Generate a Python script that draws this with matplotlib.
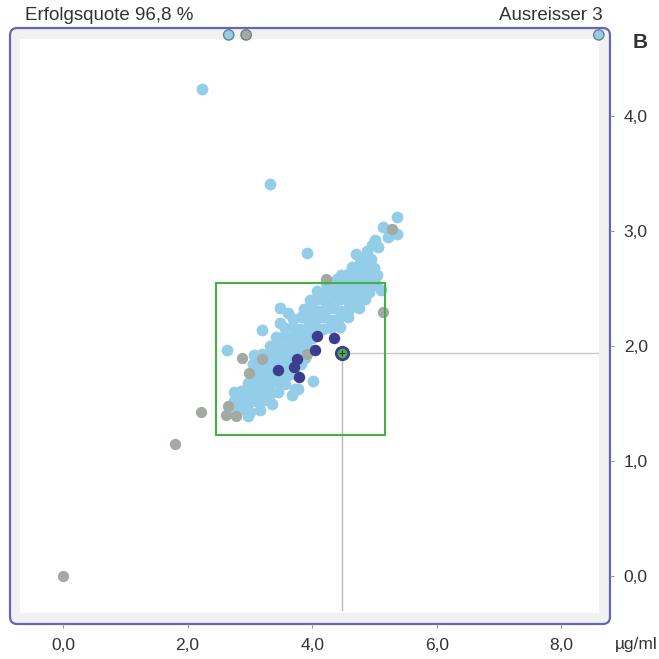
import matplotlib
matplotlib.use('Agg')
import matplotlib.pyplot as plt
from matplotlib.patches import FancyBboxPatch, Rectangle

plt.rcParams['font.family'] = ['Liberation Sans', 'DejaVu Sans']

# light blue cloud (x in ug/ml, y)
blue_x = [5.36, 5.14, 5.25, 5.36, 5.22, 5.01, 4.96, 5.06, 4.88, 4.85, 4.95, 4.77,
          4.64, 4.76, 4.88, 5.00,
          4.47, 4.58, 4.70, 4.82, 4.93, 5.04,
          4.22, 4.34, 4.46, 4.57, 4.69, 4.81, 4.92, 5.03,
          4.07, 4.19, 4.31, 4.43, 4.55, 4.67, 4.79, 4.92,
          3.97, 4.09, 4.21, 4.33, 4.45, 4.57, 4.69, 4.85,
          3.87, 3.99, 4.11, 4.23, 4.35, 4.47, 4.59, 4.75,
          3.70, 3.82, 3.94, 4.06, 4.18, 4.30, 4.42, 4.58,
          3.57, 3.69, 3.81, 3.93, 4.05, 4.17, 4.30, 4.45,
          3.42, 3.54, 3.66, 3.78, 3.90, 4.00,
          3.32, 3.44, 3.56, 3.68, 3.80, 3.92,
          3.07, 3.19, 3.31, 3.43, 3.55, 3.67, 3.79, 3.88,
          3.05, 3.17, 3.29, 3.41, 3.53, 3.65, 3.82,
          3.02, 3.14, 3.26, 3.38, 3.50, 3.62, 3.72,
          2.97, 3.09, 3.21, 3.33, 3.45, 3.57,
          2.74, 2.86, 2.98, 3.10, 3.22, 3.34, 3.45,
          2.74, 2.86, 2.98, 3.10, 3.22,
          2.76, 2.88, 3.00, 3.16,
          2.97,
          2.23, 3.32, 3.92, 5.10, 2.64, 3.68, 3.77, 3.35, 4.01,
          3.48, 3.61, 3.19, 3.48, 3.72,
          4.70, 4.40, 4.15, 3.95, 3.75, 3.50, 3.25, 2.90, 4.60, 4.30]
blue_y = [3.12, 3.04, 3.01, 2.98, 2.95, 2.92, 2.88, 2.86, 2.83, 2.77, 2.76, 2.72,
          2.69, 2.67, 2.70, 2.68,
          2.62, 2.63, 2.61, 2.63, 2.60, 2.62,
          2.55, 2.56, 2.54, 2.55, 2.56, 2.54, 2.55, 2.53,
          2.48, 2.47, 2.49, 2.47, 2.48, 2.46, 2.48, 2.47,
          2.40, 2.41, 2.39, 2.40, 2.41, 2.39, 2.40, 2.41,
          2.32, 2.33, 2.31, 2.32, 2.33, 2.31, 2.32, 2.33,
          2.24, 2.25, 2.23, 2.24, 2.25, 2.23, 2.24, 2.25,
          2.16, 2.17, 2.15, 2.16, 2.17, 2.15, 2.16, 2.17,
          2.08, 2.09, 2.07, 2.08, 2.09, 2.07,
          2.00, 2.01, 1.99, 2.00, 2.01, 1.99,
          1.92, 1.93, 1.91, 1.92, 1.93, 1.91, 1.92, 1.90,
          1.84, 1.85, 1.83, 1.84, 1.85, 1.83, 1.84,
          1.76, 1.77, 1.75, 1.76, 1.77, 1.75, 1.76,
          1.68, 1.69, 1.67, 1.68, 1.69, 1.67,
          1.60, 1.61, 1.59, 1.60, 1.61, 1.59, 1.60,
          1.52, 1.53, 1.51, 1.52, 1.53,
          1.44, 1.45, 1.43, 1.44,
          1.39,
          4.24, 3.41, 2.81, 2.49, 1.97, 1.57, 1.63, 1.50, 1.70,
          2.33, 2.29, 2.14, 2.20, 1.63,
          2.80, 2.58, 2.44, 2.28, 2.12, 1.96, 1.80, 1.56, 2.36, 2.20]

# grey points
grey_x = [0.0, 1.80, 2.22, 2.65, 2.62, 2.78, 2.87, 3.19, 2.99, 3.92, 5.14, 4.22, 5.28]
grey_y = [0.0, 1.15, 1.43, 1.48, 1.40, 1.39, 1.90, 1.89, 1.77, 1.93, 2.30, 2.58, 3.02]

# dark points
navy_x = [4.08, 4.35, 4.04, 3.76, 3.45, 3.71, 3.79]
navy_y = [2.09, 2.07, 1.97, 1.89, 1.79, 1.82, 1.73]

# outliers drawn on the upper edge
edge_x = [2.66, 2.94, 8.60]
edge_y = [4.71, 4.71, 4.71]
edge_c = ['#93cde8', '#a3aaa3', '#93cde8']

target = (4.48, 1.94)
box_x = (2.46, 5.17)
box_y = (1.23, 2.55)

x_ticks = [0, 2, 4, 6, 8]
y_ticks = [0, 1, 2, 3, 4]

fig = plt.figure(figsize=(6.59, 6.59), dpi=100)
ax = fig.add_axes([0.0152, 0.0531, 0.9104, 0.9044])
ax.set_xlim(-0.85, 8.78)
ax.set_ylim(-0.42, 4.77)
for s in ax.spines.values():
    s.set_visible(False)
ax.patch.set_visible(False)

frame = FancyBboxPatch((0, 0), 1, 1, boxstyle='round,pad=0,rounding_size=0.012',
                       transform=ax.transAxes, facecolor='#f1f1f1',
                       edgecolor='#6666b8', linewidth=1.6, zorder=0, clip_on=False)
ax.add_patch(frame)
ax.add_patch(Rectangle((0.016, 0.018), 0.966, 0.964, transform=ax.transAxes,
                       facecolor='white', edgecolor='none', zorder=0))

ax.add_patch(Rectangle((box_x[0], box_y[0]), box_x[1] - box_x[0], box_y[1] - box_y[0],
                       facecolor='none', edgecolor='#45b045', linewidth=1.5, zorder=4))
ax.plot([target[0], target[0]], [target[1], -0.30], color='#b8b8b8', lw=1, zorder=1)
ax.plot([target[0], 8.59], [target[1], target[1]], color='#c8c8c8', lw=1, zorder=1)

ax.scatter(blue_x, blue_y, s=72, color='#93cde8', linewidths=0, zorder=2)
ax.scatter(grey_x, grey_y, s=66, color='#a3aaa3', linewidths=0, zorder=2)
ax.scatter(navy_x, navy_y, s=68, color='#3d3d8f', linewidths=0, zorder=3)
ax.scatter(edge_x, edge_y, s=55, color=edge_c, edgecolors='#6f7f8f', linewidths=1, zorder=5,
           clip_on=False)
ax.scatter([target[0]], [target[1]], s=80, color='#4fb04a', edgecolors='#3d3d8f',
           linewidths=2, zorder=6)
ax.scatter([target[0]], [target[1]], s=25, marker='+', color='#1e3a1e', linewidths=0.8, zorder=7)

ax.yaxis.tick_right()
ax.set_xticks(x_ticks)
ax.set_yticks(y_ticks)
ax.set_xticklabels([('%.1f' % v).replace('.', ',') for v in x_ticks])
ax.set_yticklabels([('%.1f' % v).replace('.', ',') for v in y_ticks])
ax.tick_params(axis='both', direction='out', length=3, width=0.8, color='#999999',
               labelsize=12.5, labelcolor='#333333', pad=7)

fig.text(25 / 659, 1 - 15 / 659, 'Erfolgsquote 96,8 %', fontsize=13.5, color='#333333',
         ha='left', va='center')
fig.text(603 / 659, 1 - 15 / 659, 'Ausreisser 3', fontsize=13.5, color='#333333',
         ha='right', va='center')
fig.text(640 / 659, 1 - 42 / 659, 'B', fontsize=15, fontweight='bold', color='#333333',
         ha='center', va='center')
fig.text(636 / 659, 1 - 645 / 659, 'µg/ml', fontsize=12.5, color='#333333',
         ha='center', va='center')

plt.savefig('out.png', dpi=100)
